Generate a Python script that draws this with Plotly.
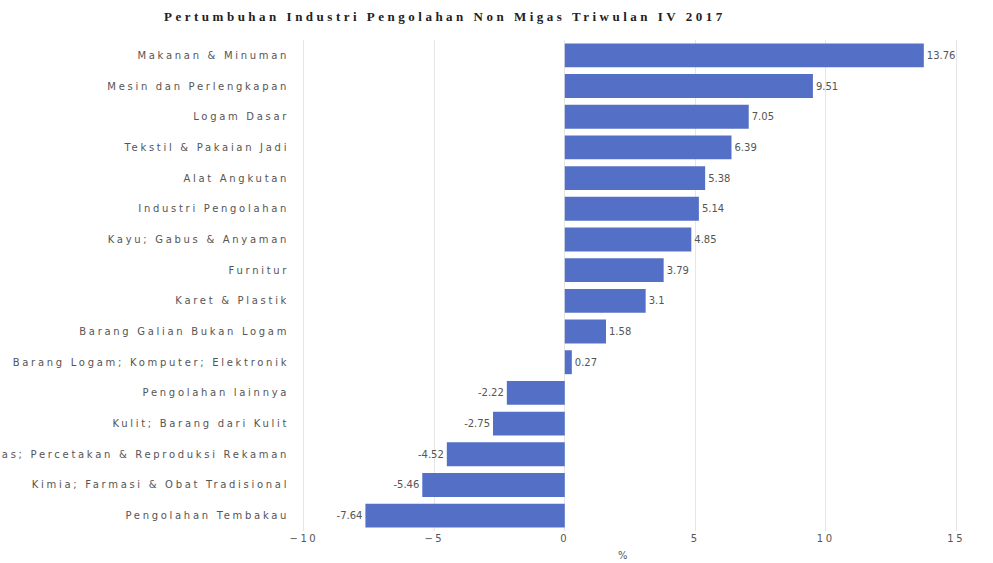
import plotly.graph_objects as go

categories = [
    "Makanan & Minuman",
    "Mesin dan Perlengkapan",
    "Logam Dasar",
    "Tekstil & Pakaian Jadi",
    "Alat Angkutan",
    "Industri Pengolahan",
    "Kayu; Gabus & Anyaman",
    "Furnitur",
    "Karet & Plastik",
    "Barang Galian Bukan Logam",
    "Barang Logam; Komputer; Elektronik",
    "Pengolahan lainnya",
    "Kulit; Barang dari Kulit",
    "Kertas; Percetakan & Reproduksi Rekaman",
    "Kimia; Farmasi & Obat Tradisional",
    "Pengolahan Tembakau",
]
values = [13.76, 9.51, 7.05, 6.39, 5.38, 5.14, 4.85, 3.79, 3.1, 1.58, 0.27,
          -2.22, -2.75, -4.52, -5.46, -7.64]
x_ticks = [-10, -5, 0, 5, 10, 15]
x_title = "%"

fig = go.Figure(go.Bar(
    x=values, y=categories, orientation="h",
    marker=dict(color="#5470c6", line=dict(width=0)),
    text=[str(v) for v in values], textposition="outside",
    textfont=dict(family="DejaVu Sans", size=10, color="#555"),
    cliponaxis=False,
))

fig.update_layout(
    width=993, height=563,
    margin=dict(l=296, r=29, t=40, b=32, autoexpand=False),
    plot_bgcolor="white", paper_bgcolor="white",
    bargap=0.22,
    showlegend=False,
    title=dict(text="Pertumbuhan Industri Pengolahan Non Migas Triwulan IV 2017",
               x=0.448, xanchor="center", y=0.97, yanchor="middle",
               font=dict(family="Liberation Serif", size=13, color="#222", weight="bold")),
    xaxis=dict(range=[-10.3, 15.3], tickvals=x_ticks, showgrid=True,
               gridcolor="#e6e6e6", zeroline=False, automargin=False,
               tickfont=dict(family="DejaVu Sans", size=10, color="#555")),
    yaxis=dict(autorange="reversed", showgrid=False, zeroline=False, automargin=False,
               tickfont=dict(family="DejaVu Sans", size=10, color="#555"),
               ticksuffix=" "),
    annotations=[dict(text=x_title, xref="paper", yref="paper", x=0.49, y=0,
                      xanchor="center", yanchor="top", yshift=-17, showarrow=False,
                      font=dict(family="DejaVu Sans", size=10, color="#555"))],
)

css_js = """
var st = document.createElement('style');
st.textContent = '.ytick text{letter-spacing:2.7px;} .xtick text{letter-spacing:2.5px;} '
 + '.gtitle{letter-spacing:3.5px;}';
document.head.appendChild(st);
"""

fig.write_html("out.html", post_script=css_js)
